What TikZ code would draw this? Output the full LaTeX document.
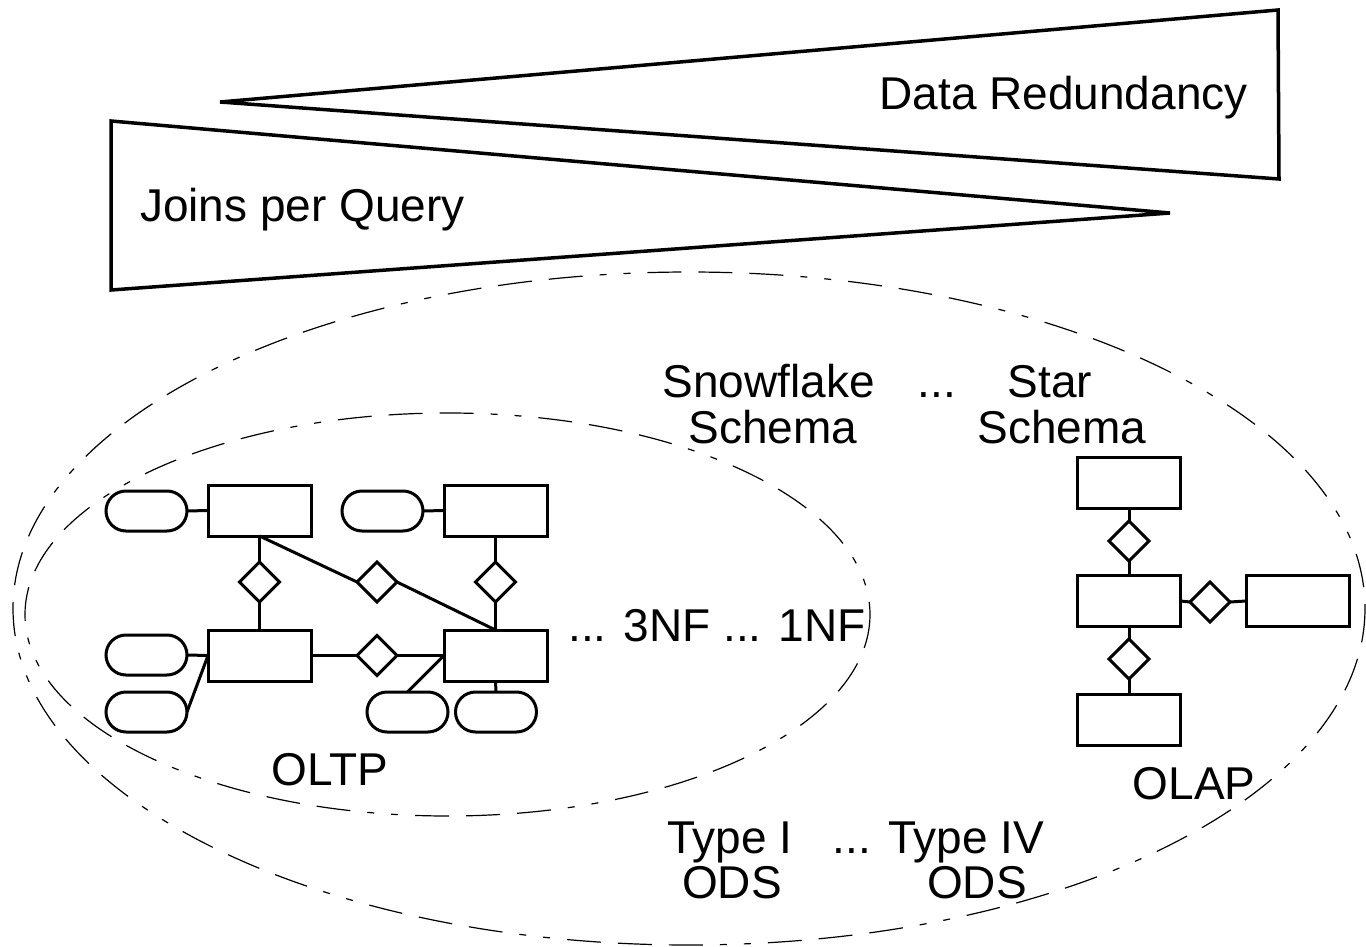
\documentclass[tikz,border=0pt]{standalone}
\usepackage{fontspec}
\setmainfont{Liberation Sans}
\usetikzlibrary{shapes.geometric,shapes.misc}
\tikzset{
  entity/.style={draw, line width=3pt, rectangle, minimum width=103pt, minimum height=51pt, inner sep=0pt, outer sep=0pt},
  attrib/.style={draw, line width=3pt, rounded rectangle, minimum width=81pt, minimum height=40pt, inner sep=0pt, outer sep=0pt},
  relship/.style={draw, line width=3pt, diamond, minimum width=40pt, minimum height=40pt, inner sep=0pt, outer sep=0pt},
  link/.style={line width=3pt},
  wedge/.style={line width=3.5pt, line join=miter},
  scope line/.style={line width=1.2pt, dash pattern=on 34pt off 17pt on 34pt off 17pt on 34pt off 17pt on 7pt off 17pt on 7pt off 17pt},
  label/.style={font=\fontsize{46}{50}\selectfont, inner sep=0pt, anchor=base}
}
\begin{document}
\begin{tikzpicture}[x=1pt, y=-1pt]
\useasboundingbox (0,0) rectangle (1366,947);

% opposing wedges
\draw[wedge] (220,102) -- (1278,10) -- (1279,179) -- cycle;
\draw[wedge] (111,121) -- (1170,213) -- (111,290) -- cycle;
\node[label, anchor=base east] (redund) at (1248,110) {Data Redundancy};
\node[label, anchor=base west] (joins) at (140,222) {Joins per Query};

% scopes
\draw[scope line] (689,608.5) ellipse [x radius=676, y radius=336.5];
\draw[scope line] (447.5,614.5) ellipse [x radius=422.5, y radius=201.5];

% OLTP entity-relationship sketch
\node[entity] (e1) at (259.5,510.5) {};
\node[entity] (e2) at (495.5,510.5) {};
\node[entity] (e3) at (259.5,655.5) {};
\node[entity] (e4) at (495.5,655.5) {};
\node[attrib] (a1) at (146.5,511) {};
\node[attrib] (a2) at (382.5,511) {};
\node[attrib] (a3) at (146.5,655) {};
\node[attrib] (a4) at (146.5,712) {};
\node[attrib] (a5) at (407.5,712) {};
\node[attrib] (a6) at (496,712) {};
\node[relship] (r1) at (259.5,582) {};
\node[relship] (r2) at (377,582) {};
\node[relship] (r3) at (495.5,582) {};
\node[relship] (r4) at (377,655.5) {};

\draw[link] (a1.east) -- (e1.west);
\draw[link] (a2.east) -- (e2.west);
\draw[link] (a3.east) -- (e3.west);
\draw[link] (a4.east) -- (e3.west);
\draw[link] (a5.north) -- (e4.west);
\draw[link] (a6.north) -- (e4.south);
\draw[link] (e1.south) -- (r1.north);
\draw[link] (r1.south) -- (e3.north);
\draw[link] (e1.south) -- (r2.west);
\draw[link] (r2.east) -- (e4.north);
\draw[link] (e2.south) -- (r3.north);
\draw[link] (r3.south) -- (e4.north);
\draw[link] (e3.east) -- (r4.west);
\draw[link] (r4.east) -- (e4.west);

% OLAP star sketch
\node[entity] (f1) at (1129,483) {};
\node[entity] (f2) at (1129,601) {};
\node[entity] (f3) at (1297.5,601) {};
\node[entity] (f4) at (1129,719.5) {};
\node[relship] (s1) at (1129,541) {};
\node[relship] (s2) at (1210,602) {};
\node[relship] (s3) at (1129,659) {};
\draw[link] (f1.south) -- (s1.north);
\draw[link] (s1.south) -- (f2.north);
\draw[link] (f2.east) -- (s2.west);
\draw[link] (s2.east) -- (f3.west);
\draw[link] (f2.south) -- (s3.north);
\draw[link] (s3.south) -- (f4.north);

% labels
\node[label] (snow) at (768.5,397) {Snowflake};
\node[label] (snowb) at (773,443) {Schema};
\node[label] (sdots) at (937,397) {...};
\node[label] (star) at (1050,397) {Star};
\node[label] (starb) at (1062,443) {Schema};
\node[label] (nf) at (717,641) {... 3NF ... 1NF};
\node[label] (oltp) at (330,785) {OLTP};
\node[label] (olap) at (1194,799) {OLAP};
\node[label] (t1) at (730,853) {Type I};
\node[label] (t1b) at (732,898) {ODS};
\node[label] (t4) at (938.5,853) {... Type IV};
\node[label] (t4b) at (977,898) {ODS};
\end{tikzpicture}
\end{document}
